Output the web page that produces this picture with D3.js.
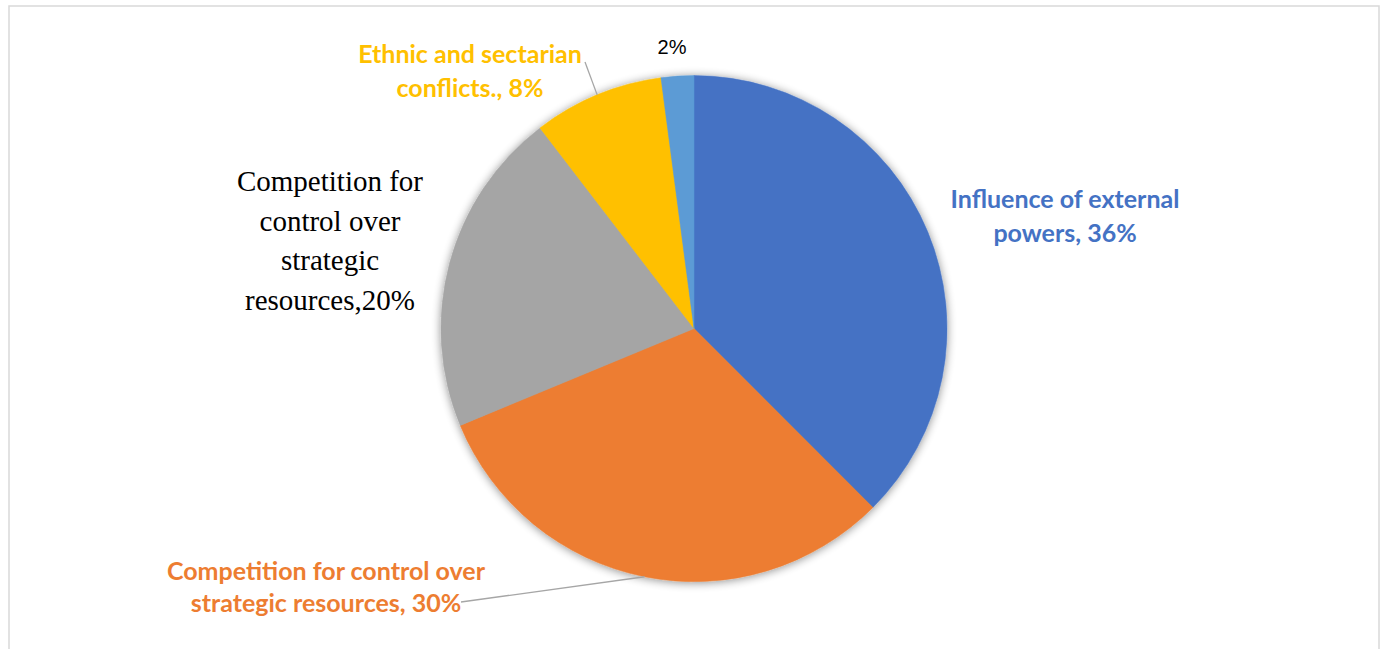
<!DOCTYPE html>
<html>
<head>
<meta charset="utf-8">
<script src="https://cdn.jsdelivr.net/npm/d3@7"></script>
<style>
  html, body { margin: 0; padding: 0; background: #fff; }
  svg { display: block; }
</style>
</head>
<body>
<div id="chart"></div>
<script>
// --- DATA ---
const categories = [
  "Influence of external powers",
  "Competition for control over strategic resources",
  "Competition for control over strategic resources",
  "Ethnic and sectarian conflicts.",
  ""
];
const values = [36, 30, 20, 8, 2];
const labelLines = [
  ["Influence of external", "powers, 36%"],
  ["Competition for control over", "strategic resources, 30%"],
  ["Competition for", "control over", "strategic", "resources,20%"],
  ["Ethnic and sectarian", "conflicts., 8%"],
  ["2%"]
];

// --- CONFIG ---
const WIDTH = 1384;
const HEIGHT = 649;
const CX = 694, CY = 328.6, R = 253;
const COLORS = ["#4472C4", "#ED7D31", "#A5A5A5", "#FFC000", "#5B9BD5"];

// label styling / placement (relative to pie centre)
const SANS = "Lato, 'Open Sans', sans-serif";
const LABELS = [
  { dx: 371, dy: -114, size: 25, lh: 34, font: SANS, weight: 700, color: "#4472C4" },
  { dx: -368, dy: 257, size: 25, lh: 32, font: SANS, weight: 700, color: "#ED7D31", leader: [461, 602] },
  { dx: -364, dy: -88, size: 29, lh: 39.5, font: "'Liberation Serif', 'DejaVu Serif', serif", weight: 400, color: "#000" },
  { dx: -224, dy: -259, size: 25, lh: 34, font: SANS, weight: 700, color: "#FFC000", leader: [585, 62] },
  { dx: -22, dy: -282, size: 20, lh: 22, font: "'Liberation Sans', Arial, sans-serif", weight: 400, color: "#000" }
];

const svg = d3.select("#chart")
  .append("svg")
  .attr("width", WIDTH)
  .attr("height", HEIGHT);

// chart border
svg.append("rect")
  .attr("x", 9).attr("y", 6)
  .attr("width", 1370).attr("height", 660)
  .attr("fill", "#fff")
  .attr("stroke", "#d9d9d9")
  .attr("stroke-width", 1.5);

// soft shadow under the pie
const defs = svg.append("defs");
const f = defs.append("filter").attr("id", "shadow")
  .attr("x", "-20%").attr("y", "-20%").attr("width", "140%").attr("height", "140%");
f.append("feGaussianBlur").attr("in", "SourceAlpha").attr("stdDeviation", 5).attr("result", "b");
f.append("feOffset").attr("in", "b").attr("dx", 0).attr("dy", 1).attr("result", "o");
f.append("feComponentTransfer").attr("in", "o").attr("result", "s")
  .append("feFuncA").attr("type", "linear").attr("slope", 0.45);
const m = f.append("feMerge");
m.append("feMergeNode").attr("in", "s");
m.append("feMergeNode").attr("in", "SourceGraphic");

const pie = d3.pie().sort(null).value(d => d)
  .startAngle(0).endAngle(2 * Math.PI);
const arcs = pie(values);

const arc = d3.arc().innerRadius(0).outerRadius(R);
const edge = d3.arc().innerRadius(R).outerRadius(R);

const g = svg.append("g").attr("transform", `translate(${CX},${CY})`);

g.append("g")
  .attr("filter", "url(#shadow)")
  .selectAll("path")
  .data(arcs)
  .join("path")
  .attr("d", arc)
  .attr("fill", (d, i) => COLORS[i])
  .attr("stroke", (d, i) => COLORS[i])
  .attr("stroke-width", 0.5);

// leader lines (from label to slice edge at mid-angle)
arcs.forEach((d, i) => {
  const L = LABELS[i];
  if (!L.leader) return;
  const [ex, ey] = edge.centroid(d);
  svg.append("line")
    .attr("x1", L.leader[0]).attr("y1", L.leader[1])
    .attr("x2", CX + ex).attr("y2", CY + ey)
    .attr("stroke", "#a6a6a6")
    .attr("stroke-width", 1.3);
});

// labels
arcs.forEach((d, i) => {
  const L = LABELS[i];
  const lines = labelLines[i];
  const t = svg.append("text")
    .attr("text-anchor", "middle")
    .attr("font-family", L.font)
    .attr("font-weight", L.weight)
    .attr("font-size", L.size)
    .attr("fill", L.color);
  const n = lines.length;
  lines.forEach((ln, k) => {
    t.append("tspan")
      .attr("x", CX + L.dx)
      .attr("y", CY + L.dy + (k - (n - 1) / 2) * L.lh)
      .attr("dominant-baseline", "central")
      .text(ln);
  });
});
</script>
</body>
</html>
